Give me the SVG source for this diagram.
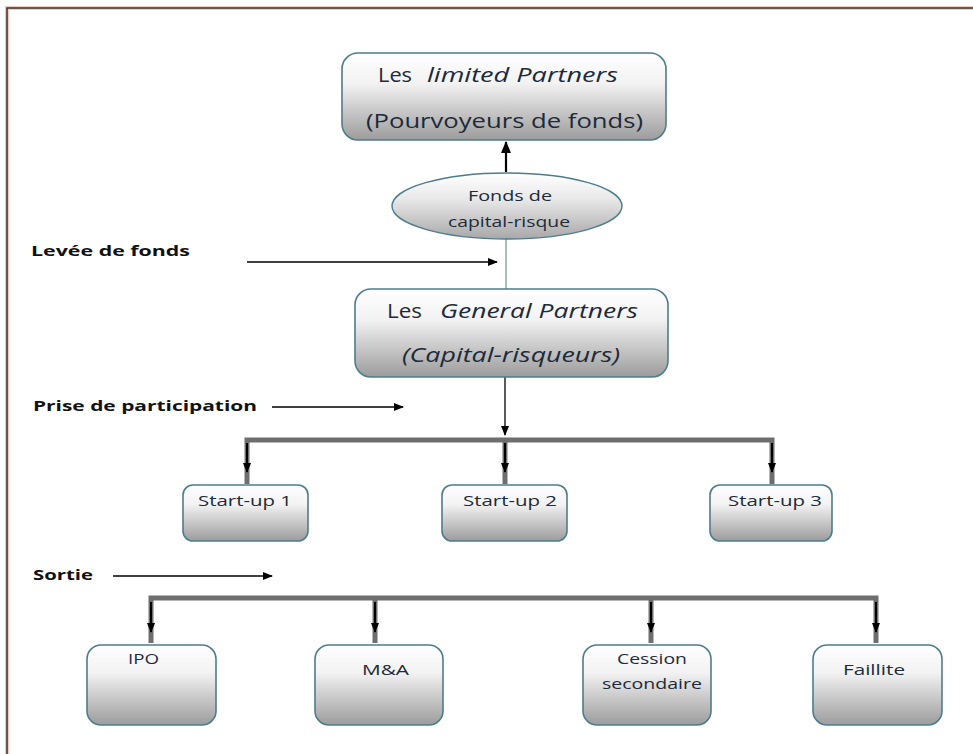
<svg xmlns="http://www.w3.org/2000/svg" width="973" height="754" viewBox="0 0 973 754">
<defs>
<linearGradient id="g" x1="0" y1="0" x2="0" y2="1">
<stop offset="0" stop-color="#ffffff"/>
<stop offset="0.35" stop-color="#f2f2f2"/>
<stop offset="1" stop-color="#9c9c9c"/>
</linearGradient>
<linearGradient id="ge" x1="0" y1="0" x2="0" y2="1">
<stop offset="0" stop-color="#ffffff"/>
<stop offset="0.4" stop-color="#e8e8e8"/>
<stop offset="1" stop-color="#a8a8a8"/>
</linearGradient>
<marker id="ah" markerWidth="10" markerHeight="8" refX="9" refY="4" orient="auto" markerUnits="userSpaceOnUse">
<path d="M0,0 L10,4 L0,8 Z" fill="#000"/>
</marker>
<marker id="ahb" markerWidth="12" markerHeight="10" refX="11" refY="5" orient="auto" markerUnits="userSpaceOnUse">
<path d="M0,0 L12,5 L0,10 Z" fill="#000"/>
</marker>
</defs>
<style>
.box{fill:url(#g);stroke:#4d7d8c;stroke-width:1.6}
.t{font-family:"Open Sans","Liberation Sans",sans-serif;fill:#1c2a3a}
.big{font-size:20px}
.sm{font-size:15px}
.it{font-style:italic}
.lbl{font-family:"Open Sans","Liberation Sans",sans-serif;font-weight:bold;font-size:15px;fill:#111}
.ar{stroke:#000;stroke-width:1.3;fill:none;marker-end:url(#ah)}
.bus{stroke:#6e6e6e;stroke-width:5;fill:none;stroke-linejoin:miter}
.drop{stroke:#000;stroke-width:2;fill:none;marker-end:url(#ah)}
</style>
<rect x="0" y="0" width="973" height="754" fill="#fff"/>
<path d="M7,754 L7,8 L973,8" fill="none" stroke="#f5c8b8" stroke-width="4"/>
<path d="M7,754 L7,8 L973,8" fill="none" stroke="#333" stroke-width="1.5"/>

<g id="connectors">
<line x1="506" y1="172" x2="506" y2="142" stroke="#000" stroke-width="2.2" marker-end="url(#ahb)"/>
<line x1="506" y1="238" x2="506" y2="289" stroke="#7a9aa6" stroke-width="1.3"/>
<line x1="247" y1="262" x2="497" y2="262" class="ar"/>
<line x1="272" y1="407" x2="403" y2="407" class="ar"/>
<line x1="113" y1="576" x2="272" y2="576" class="ar"/>
<line x1="505" y1="377" x2="505" y2="435" class="ar"/>
<path d="M247,484 L247,440 L772,440 L772,484" class="bus"/>
<line x1="505" y1="440" x2="505" y2="484" class="bus"/>
<line x1="247" y1="443" x2="247" y2="472" class="drop"/>
<line x1="505" y1="443" x2="505" y2="472" class="drop"/>
<line x1="772" y1="443" x2="772" y2="472" class="drop"/>
<path d="M151,643 L151,598 L876,598 L876,643" class="bus"/>
<line x1="375" y1="598" x2="375" y2="643" class="bus"/>
<line x1="651" y1="598" x2="651" y2="643" class="bus"/>
<line x1="151" y1="602" x2="151" y2="632" class="drop"/>
<line x1="375" y1="602" x2="375" y2="632" class="drop"/>
<line x1="651" y1="602" x2="651" y2="632" class="drop"/>
<line x1="876" y1="602" x2="876" y2="632" class="drop"/>
</g>

<g id="labels">
<text x="31" y="256" class="lbl" textLength="159" lengthAdjust="spacingAndGlyphs">Levée de fonds</text>
<text x="33" y="411" class="lbl" textLength="224" lengthAdjust="spacingAndGlyphs">Prise de participation</text>
<text x="33" y="580" class="lbl" textLength="60" lengthAdjust="spacingAndGlyphs">Sortie</text>
</g>

<g id="limited">
<rect x="342" y="53" width="324" height="87" rx="16" class="box"/>
<text x="378" y="82" class="t big" textLength="34" lengthAdjust="spacingAndGlyphs">Les</text>
<text x="427" y="82" class="t big it" textLength="191" lengthAdjust="spacingAndGlyphs">limited Partners</text>
<text x="366" y="128" class="t big" textLength="277" lengthAdjust="spacingAndGlyphs">(Pourvoyeurs de fonds)</text>
</g>

<g id="fonds">
<ellipse cx="507" cy="206" rx="115" ry="33" fill="url(#ge)" stroke="#4d7d8c" stroke-width="1.4"/>
<text x="468" y="201" class="t sm" textLength="84" lengthAdjust="spacingAndGlyphs">Fonds de</text>
<text x="448" y="227" class="t sm" textLength="122" lengthAdjust="spacingAndGlyphs">capital-risque</text>
</g>

<g id="general">
<rect x="355" y="289" width="313" height="88" rx="16" class="box"/>
<text x="387" y="318" class="t big" textLength="35" lengthAdjust="spacingAndGlyphs">Les</text>
<text x="440" y="318" class="t big it" textLength="198" lengthAdjust="spacingAndGlyphs">General Partners</text>
<text x="402" y="362" class="t big it" textLength="218" lengthAdjust="spacingAndGlyphs">(Capital-risqueurs)</text>
</g>

<g id="su1">
<rect x="183" y="485" width="125" height="56" rx="10" class="box"/>
<text x="198" y="506" class="t sm" textLength="94" lengthAdjust="spacingAndGlyphs">Start-up 1</text>
</g>
<g id="su2">
<rect x="442" y="485" width="125" height="56" rx="10" class="box"/>
<text x="463" y="506" class="t sm" textLength="94" lengthAdjust="spacingAndGlyphs">Start-up 2</text>
</g>
<g id="su3">
<rect x="710" y="485" width="122" height="56" rx="10" class="box"/>
<text x="728" y="506" class="t sm" textLength="94" lengthAdjust="spacingAndGlyphs">Start-up 3</text>
</g>

<g id="ipo">
<rect x="87" y="645" width="129" height="80" rx="14" class="box"/>
<text x="128" y="664" class="t sm" textLength="31" lengthAdjust="spacingAndGlyphs">IPO</text>
</g>
<g id="ma">
<rect x="315" y="645" width="128" height="80" rx="14" class="box"/>
<text x="362" y="675" class="t sm" textLength="47" lengthAdjust="spacingAndGlyphs">M&amp;A</text>
</g>
<g id="cession">
<rect x="583" y="645" width="128" height="80" rx="14" class="box"/>
<text x="617" y="664" class="t sm" textLength="70" lengthAdjust="spacingAndGlyphs">Cession</text>
<text x="602" y="689" class="t sm" textLength="100" lengthAdjust="spacingAndGlyphs">secondaire</text>
</g>
<g id="faillite">
<rect x="813" y="645" width="129" height="80" rx="14" class="box"/>
<text x="843" y="675" class="t sm" textLength="62" lengthAdjust="spacingAndGlyphs">Faillite</text>
</g>
</svg>
